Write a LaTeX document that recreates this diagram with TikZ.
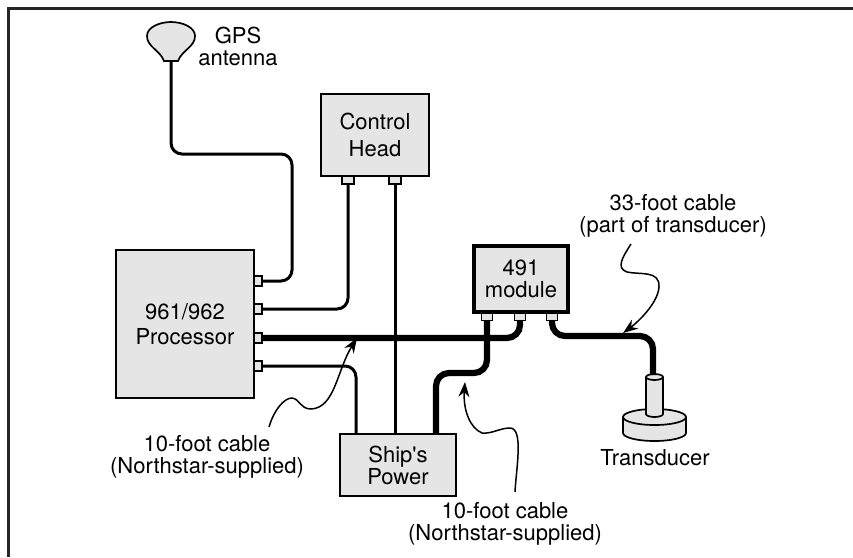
\documentclass[tikz,border=0pt]{standalone}
\usepackage{fontspec}
\setmainfont{TeX Gyre Heros}
\usetikzlibrary{arrows.meta}
\tikzset{
	unitbox/.style={draw=black, fill=black!10, line width=1.7pt, align=center, inner sep=0pt},
	port/.style={draw=black, fill=black!10, line width=1.4pt, inner sep=0pt},
	thinwire/.style={line width=3pt, rounded corners=11pt},
	thickwire/.style={line width=6.2pt, rounded corners=13pt},
	callout/.style={->, line width=1.5pt},
	caption/.style={align=center, inner sep=0pt}
}
\begin{document}
\begin{tikzpicture}[>={Stealth[length=15pt,width=11pt]}, x=1pt, y=-1pt, font=\fontsize{22}{22}\selectfont]
	\useasboundingbox (0,0) rectangle (853,557);
	\draw[line width=2.4pt, black!85] (8.5,557) -- (8.5,8.5) -- (853,8.5);

	% Units
	\node[unitbox, minimum width=108pt, minimum height=82pt, font=\fontsize{22}{26.5}\selectfont] (head) at (375,135) {Control\\Head};
	\node[unitbox, minimum width=138pt, minimum height=148pt, font=\fontsize{22}{25.5}\selectfont] (proc) at (185,324) {961/962\\Processor};
	\node[unitbox, line width=3.5pt, minimum width=94pt, minimum height=66pt] (mod) at (521,279) {491\\module};
	\node[unitbox, minimum width=116pt, minimum height=62pt] (power) at (398,465) {Ship\textquotesingle s\\Power};

	% Ports
	\foreach \n/\y in {a/281, b/309, c/338, d/366}
		\node[port, minimum width=8pt, minimum height=10pt] (proc\n) at (258,\y) {};
	\foreach \n/\x in {a/348, b/395}
		\node[port, minimum width=12pt, minimum height=8pt] (head\n) at (\x,180) {};
	\foreach \n/\x in {a/487, b/520, c/552}
		\node[port, minimum width=11pt, minimum height=7pt] (mod\n) at (\x,317) {};

	% GPS antenna
	\coordinate (gps) at (171,61);
	\draw[line width=1.7pt, fill=black!10] (164,61) .. controls (160,50) and (147,47) .. (147,36)
		.. controls (147,27) and (160,22) .. (171,22) .. controls (182,22) and (195,27) .. (195,36)
		.. controls (195,47) and (182,50) .. (178,61) -- cycle;
	\coordinate (gpsa) at (171,154);
	\coordinate (gpsb) at (292,154);
	\coordinate (gpsc) at (292,281);
	\draw[thinwire] (gps) -- (gpsa) -- (gpsb) -- (gpsc) -- (proca.east);

	% Transducer
	\coordinate (disc) at (654.5,417);
	\draw[line width=1.7pt, fill=black!10] (623,417) -- (623,433) arc[start angle=180, end angle=360, x radius=31.5pt, y radius=8pt] -- (686,417);
	\draw[line width=1.7pt, fill=black!10] (disc) ellipse[x radius=31.5pt, y radius=8pt];
	\draw[line width=1.7pt, fill=black!10] (646,377) -- (646,414) arc[start angle=180, end angle=360, x radius=8.5pt, y radius=3pt] -- (663,377);
	\draw[line width=1.7pt, fill=black!10] (654.5,377) ellipse[x radius=8.5pt, y radius=3pt];
	\coordinate (sensor) at (653,375);

	% Thin wires
	\coordinate (heada1) at (348,309);
	\draw[thinwire] (heada.south) -- (heada1) -- (procb.east);
	\draw[thinwire] (headb.south) -- (headb |- power.north);
	\coordinate (procd1) at (356,366);
	\draw[thinwire] (procd.east) -- (procd1) -- (procd1 |- power.north);

	% Thick wires
	\coordinate (modb1) at (520,338);
	\draw[thickwire] (procc.east) -- (modb1) -- (modb.south);
	\coordinate (moda1) at (487,373);
	\coordinate (moda2) at (436,373);
	\draw[thickwire] (moda.south) -- (moda1) -- (moda2) -- (moda2 |- power.north);
	\coordinate (modc1) at (552,336);
	\coordinate (modc2) at (653,336);
	\draw[thickwire] (modc.south) -- (modc1) -- (modc2) -- (sensor);

	% Labels
	\node[caption] (gpslabel) at (238,46.5) {GPS\\antenna};
	\node[caption] (longlabel) at (673,215.5) {33-foot cable\\(part of transducer)};
	\node[caption] (sensorlabel) at (655,458) {Transducer};
	\node[caption] (leftlabel) at (207,456.5) {10-foot cable\\(Northstar-supplied)};
	\node[caption] (rightlabel) at (505,523.5) {10-foot cable\\(Northstar-supplied)};

	% Callouts
	\coordinate (longfrom) at (631,244);
	\coordinate (longto) at (623,333);
	\draw[callout] (longfrom) .. controls (622,258) and (616,268) .. (627,272)
		.. controls (640,275) and (660,270) .. (659,287) .. controls (658,303) and (638,322) .. (longto);
	\coordinate (leftfrom) at (269,427);
	\coordinate (leftto) at (357,338);
	\draw[callout] (leftfrom) .. controls (274,410) and (284,398) .. (292,398)
		.. controls (300,399) and (300,409) .. (311,409) .. controls (335,408) and (337,370) .. (leftto);
	\coordinate (rightfrom) at (515,492);
	\coordinate (rightto) at (465,382);
	\draw[callout] (rightfrom) .. controls (516,470) and (524,428) .. (510,428)
		.. controls (500,428) and (492,434) .. (482,433) .. controls (470,428) and (463,410) .. (rightto);
\end{tikzpicture}
\end{document}
